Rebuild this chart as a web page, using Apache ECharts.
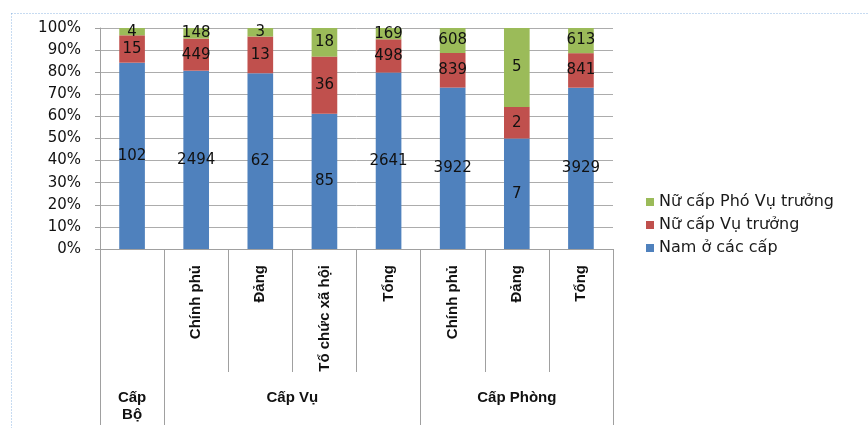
<!DOCTYPE html>
<html>
<head>
<meta charset="utf-8">
<script src="https://cdn.jsdelivr.net/npm/echarts@6/dist/echarts.min.js"></script>
<style>
  html, body { margin: 0; padding: 0; background: #fff; }
  #chart { width: 868px; height: 428px; }
</style>
</head>
<body>
<div id="chart"></div>
<script>
// Sub-level categories (the first column, Cấp Bộ, has no sub-label)
var categories = ['', 'Chính phủ', 'Đảng', 'Tổ chức xã hội', 'Tổng', 'Chính phủ', 'Đảng', 'Tổng'];
// Group labels and where each group starts/ends along the category index
var groupLabels = ['Cấp\nBộ', 'Cấp Vụ', 'Cấp Phòng'];
var groupBounds = [0, 1, 5, 8];

// Head counts per category
var namCacCap = [102, 2494, 62, 85, 2641, 3922, 7, 3929];
var nuVuTruong = [15, 449, 13, 36, 498, 839, 2, 841];
var nuPhoVuTruong = [4, 148, 3, 18, 169, 608, 5, 613];

var seriesNames = ['Nam ở các cấp', 'Nữ cấp Vụ trưởng', 'Nữ cấp Phó Vụ trưởng'];
var seriesColors = ['#4f81bd', '#c0504d', '#9bbb59'];
var yTicks = [0, 10, 20, 30, 40, 50, 60, 70, 80, 90, 100];

var counts = [namCacCap, nuVuTruong, nuPhoVuTruong];
var totals = categories.map(function (_, i) {
  return namCacCap[i] + nuVuTruong[i] + nuPhoVuTruong[i];
});

var labelFont = 'DejaVu Sans, Arial, sans-serif';

var series = counts.map(function (arr, s) {
  return {
    name: seriesNames[s],
    type: 'bar',
    stack: 'share',
    barWidth: '40%',
    xAxisIndex: 0,
    itemStyle: { color: seriesColors[s] },
    label: {
      show: true,
      position: 'inside',
      color: '#111',
      fontFamily: labelFont,
      fontSize: 15,
      formatter: function (p) { return arr[p.dataIndex]; }
    },
    data: arr.map(function (v, i) { return v / totals[i] * 100; })
  };
});

var chart = echarts.init(document.getElementById('chart'), null, { renderer: 'canvas' });
chart.setOption({
  animation: false,
  backgroundColor: '#fff',
  graphic: [{
    type: 'rect',
    silent: true,
    shape: { x: 11.5, y: 13.5, width: 900, height: 500 },
    style: { fill: 'none', stroke: '#8fb6e3', lineWidth: 1, lineDash: [1, 2] }
  }],
  legend: {
    orient: 'vertical',
    left: 641,
    top: 189,
    icon: 'rect',
    itemWidth: 8,
    itemHeight: 8,
    itemGap: 7,
    data: [seriesNames[2], seriesNames[1], seriesNames[0]],
    textStyle: { fontFamily: labelFont, fontSize: 16, color: '#1a1a1a' }
  },
  grid: { left: 100, right: 255, top: 28, bottom: 179 },
  xAxis: [{
    type: 'category',
    data: categories,
    position: 'bottom',
    axisLine: { lineStyle: { color: '#a0a0a0' } },
    axisTick: { show: true, interval: 0, length: 123, lineStyle: { color: '#a0a0a0' } },
    axisLabel: {
      interval: 0,
      rotate: 90,
      margin: 16,
      color: '#111',
      fontWeight: 'bold',
      fontFamily: 'Liberation Sans, Arial, sans-serif',
      fontSize: 15
    },
    splitLine: { show: false }
  }, {
    type: 'value',
    position: 'bottom',
    min: groupBounds[0],
    max: groupBounds[groupBounds.length - 1],
    axisLine: { show: false },
    axisTick: {
      show: true,
      length: 176,
      customValues: groupBounds,
      lineStyle: { color: '#a0a0a0' }
    },
    axisLabel: {
      show: true,
      margin: 140,
      verticalAlign: 'top',
      lineHeight: 17,
      color: '#111',
      fontWeight: 'bold',
      fontFamily: 'Liberation Sans, Arial, sans-serif',
      fontSize: 15,
      customValues: groupLabels.map(function (_, g) {
        return (groupBounds[g] + groupBounds[g + 1]) / 2;
      }),
      formatter: function (v) {
        for (var g = 0; g < groupLabels.length; g++) {
          if (Math.abs((groupBounds[g] + groupBounds[g + 1]) / 2 - v) < 1e-6) return groupLabels[g];
        }
        return '';
      }
    },
    splitLine: { show: false }
  }],
  yAxis: {
    type: 'value',
    min: yTicks[0],
    max: yTicks[yTicks.length - 1],
    interval: 10,
    axisLine: { show: true, lineStyle: { color: '#a0a0a0' } },
    axisTick: { show: true, length: 5, lineStyle: { color: '#a0a0a0' } },
    axisLabel: {
      margin: 19,
      color: '#111',
      fontFamily: labelFont,
      fontSize: 15,
      formatter: '{value}%'
    },
    splitLine: { lineStyle: { color: '#acacac' } }
  },
  series: series
});
</script>
</body>
</html>
